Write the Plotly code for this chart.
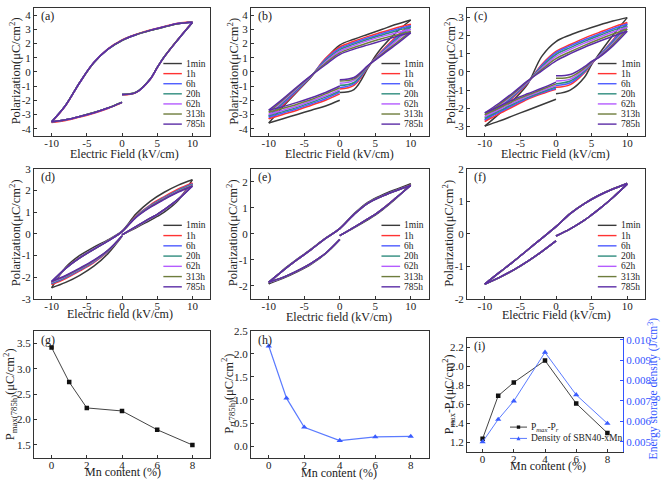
import plotly.graph_objects as go

FONT = "Liberation Serif, Times New Roman, serif"
TIMES = ["1min", "1h", "6h", "20h", "62h", "313h", "785h"]
COLORS = ["#3a3a3a", "#ff3333", "#4d5bff", "#2e8c7e", "#b45cff", "#6e7d3c", "#5b2ca6"]

# field grids for the three segments of each P-E loop (kV/cm)
E_VI = [0, 2, 4, 5, 6, 8, 10]                    # 0 -> +10
E_UP = [10, 8, 6, 4, 2, 0, -2, -4, -6, -8, -10]  # +10 -> -10
E_LO = [-10, -8, -6, -4, -2, 0]                  # -10 -> 0

# ---------------- (a) ----------------
A_VI = [
    [-1.60, -1.44, -0.52, 0.30, 1.05, 2.30, 3.48],
    [-1.62, -1.46, -0.54, 0.29, 1.05, 2.32, 3.52],
    [-1.60, -1.45, -0.52, 0.30, 1.06, 2.31, 3.48],
    [-1.59, -1.44, -0.51, 0.31, 1.06, 2.30, 3.47],
    [-1.60, -1.45, -0.52, 0.30, 1.05, 2.30, 3.47],
    [-1.59, -1.44, -0.51, 0.31, 1.06, 2.31, 3.46],
    [-1.60, -1.45, -0.52, 0.30, 1.05, 2.30, 3.47],
]
A_UP = [
    [3.50, 3.40, 3.17, 2.92, 2.62, 2.22, 1.60, 0.65, -0.75, -2.35, -3.52],
    [3.53, 3.43, 3.20, 2.95, 2.65, 2.25, 1.62, 0.66, -0.76, -2.38, -3.56],
    [3.50, 3.40, 3.17, 2.92, 2.62, 2.22, 1.60, 0.65, -0.75, -2.35, -3.52],
    [3.49, 3.39, 3.16, 2.91, 2.61, 2.21, 1.59, 0.64, -0.75, -2.34, -3.51],
    [3.50, 3.40, 3.17, 2.92, 2.62, 2.22, 1.60, 0.65, -0.75, -2.35, -3.52],
    [3.49, 3.39, 3.16, 2.91, 2.61, 2.21, 1.59, 0.64, -0.74, -2.34, -3.51],
    [3.50, 3.40, 3.17, 2.92, 2.62, 2.22, 1.60, 0.65, -0.75, -2.35, -3.52],
]
A_LO = [
    [-3.52, -3.38, -3.15, -2.88, -2.55, -2.15],
    [-3.56, -3.42, -3.18, -2.91, -2.58, -2.17],
    [-3.52, -3.38, -3.15, -2.88, -2.55, -2.15],
    [-3.51, -3.37, -3.14, -2.87, -2.54, -2.14],
    [-3.52, -3.38, -3.15, -2.88, -2.55, -2.15],
    [-3.51, -3.37, -3.14, -2.87, -2.54, -2.14],
    [-3.52, -3.38, -3.15, -2.88, -2.55, -2.15],
]

# ---------------- (b) ----------------
B_VI = [
    [-1.45, -1.25, 0.30, 1.10, 1.75, 2.80, 3.65],
    [-1.20, -0.95, 0.35, 0.95, 1.50, 2.50, 3.35],
    [-1.10, -0.85, 0.38, 0.92, 1.45, 2.40, 3.25],
    [-0.95, -0.75, 0.40, 0.90, 1.40, 2.30, 3.15],
    [-0.80, -0.60, 0.42, 0.88, 1.35, 2.20, 3.00],
    [-0.65, -0.50, 0.43, 0.85, 1.27, 2.05, 2.85],
    [-0.55, -0.40, 0.45, 0.83, 1.20, 1.95, 2.75],
]
B_UP = [
    [3.65, 3.35, 3.00, 2.65, 2.30, 1.89, 0.90, -0.35, -1.40, -2.45, -3.60],
    [3.35, 3.10, 2.80, 2.50, 2.15, 1.75, 0.95, -0.30, -1.35, -2.35, -3.30],
    [3.25, 3.00, 2.70, 2.40, 2.05, 1.65, 0.88, -0.30, -1.30, -2.25, -3.20],
    [3.15, 2.90, 2.60, 2.30, 1.95, 1.55, 0.80, -0.28, -1.22, -2.15, -3.10],
    [3.00, 2.75, 2.50, 2.20, 1.85, 1.45, 0.70, -0.27, -1.17, -2.07, -3.00],
    [2.85, 2.60, 2.35, 2.05, 1.72, 1.33, 0.60, -0.26, -1.10, -1.97, -2.85],
    [2.75, 2.50, 2.20, 1.90, 1.60, 1.22, 0.50, -0.25, -1.05, -1.90, -2.70],
]
B_LO = [
    [-3.60, -3.30, -3.00, -2.70, -2.40, -2.00],
    [-3.30, -3.00, -2.70, -2.35, -2.00, -1.55],
    [-3.20, -2.90, -2.60, -2.25, -1.90, -1.45],
    [-3.10, -2.80, -2.50, -2.15, -1.78, -1.35],
    [-3.00, -2.70, -2.40, -2.05, -1.68, -1.25],
    [-2.85, -2.57, -2.28, -1.95, -1.55, -1.12],
    [-2.70, -2.45, -2.15, -1.82, -1.45, -1.00],
]

# ---------------- (c) ----------------
C_VI = [
    [-1.20, -1.00, -0.30, 0.40, 0.95, 2.00, 2.97],
    [-0.85, -0.70, -0.05, 0.45, 0.85, 1.75, 2.70],
    [-0.75, -0.60, 0.00, 0.47, 0.85, 1.70, 2.62],
    [-0.65, -0.50, 0.05, 0.50, 0.83, 1.63, 2.53],
    [-0.50, -0.40, 0.12, 0.52, 0.82, 1.57, 2.45],
    [-0.35, -0.28, 0.20, 0.55, 0.80, 1.50, 2.35],
    [-0.22, -0.15, 0.28, 0.57, 0.78, 1.42, 2.22],
]
C_UP = [
    [2.97, 2.78, 2.55, 2.30, 2.02, 1.66, 0.85, -0.68, -1.55, -2.30, -2.97],
    [2.70, 2.45, 2.15, 1.85, 1.50, 1.12, 0.40, -0.62, -1.40, -2.08, -2.72],
    [2.62, 2.36, 2.06, 1.76, 1.42, 1.05, 0.35, -0.60, -1.35, -2.02, -2.63],
    [2.53, 2.27, 1.98, 1.67, 1.33, 0.95, 0.28, -0.57, -1.30, -1.96, -2.55],
    [2.45, 2.18, 1.88, 1.57, 1.23, 0.85, 0.20, -0.55, -1.25, -1.88, -2.45],
    [2.35, 2.07, 1.77, 1.45, 1.10, 0.72, 0.12, -0.52, -1.19, -1.80, -2.35],
    [2.22, 1.95, 1.66, 1.35, 1.00, 0.60, 0.05, -0.50, -1.13, -1.72, -2.25],
]
C_LO = [
    [-2.97, -2.70, -2.40, -2.10, -1.80, -1.50],
    [-2.72, -2.30, -1.90, -1.50, -1.20, -0.95],
    [-2.63, -2.22, -1.83, -1.45, -1.15, -0.90],
    [-2.55, -2.15, -1.76, -1.40, -1.10, -0.83],
    [-2.45, -2.07, -1.69, -1.34, -1.04, -0.75],
    [-2.35, -1.98, -1.60, -1.27, -0.97, -0.66],
    [-2.25, -1.90, -1.52, -1.20, -0.90, -0.56],
]

# ---------------- (d) ----------------
D_VI = [
    [-0.05, 0.28, 0.62, 0.80, 1.00, 1.55, 2.50],
    [-0.05, 0.32, 0.70, 0.88, 1.10, 1.60, 2.35],
    [-0.05, 0.32, 0.70, 0.88, 1.10, 1.60, 2.30],
    [-0.05, 0.33, 0.71, 0.89, 1.11, 1.60, 2.28],
    [-0.05, 0.33, 0.71, 0.89, 1.11, 1.60, 2.25],
    [-0.05, 0.33, 0.72, 0.90, 1.12, 1.60, 2.22],
    [-0.05, 0.34, 0.72, 0.90, 1.12, 1.60, 2.20],
]
D_UP = [
    [2.50, 2.25, 1.92, 1.50, 0.92, 0.12, -0.28, -0.62, -1.00, -1.55, -2.50],
    [2.35, 2.07, 1.72, 1.33, 0.82, 0.10, -0.32, -0.70, -1.10, -1.60, -2.35],
    [2.30, 2.02, 1.68, 1.30, 0.80, 0.10, -0.32, -0.70, -1.10, -1.60, -2.30],
    [2.28, 2.00, 1.66, 1.28, 0.79, 0.10, -0.33, -0.71, -1.11, -1.60, -2.28],
    [2.25, 1.97, 1.63, 1.26, 0.78, 0.10, -0.33, -0.71, -1.11, -1.60, -2.25],
    [2.22, 1.95, 1.61, 1.24, 0.77, 0.10, -0.33, -0.72, -1.12, -1.60, -2.22],
    [2.20, 1.93, 1.59, 1.22, 0.76, 0.10, -0.34, -0.72, -1.12, -1.60, -2.20],
]
D_LO = [
    [-2.50, -2.25, -1.92, -1.50, -0.92, -0.12],
    [-2.35, -2.07, -1.72, -1.33, -0.82, -0.10],
    [-2.30, -2.02, -1.68, -1.30, -0.80, -0.10],
    [-2.28, -2.00, -1.66, -1.28, -0.79, -0.10],
    [-2.25, -1.97, -1.63, -1.26, -0.78, -0.10],
    [-2.22, -1.95, -1.61, -1.24, -0.77, -0.10],
    [-2.20, -1.93, -1.59, -1.22, -0.76, -0.10],
]

# ---------------- (e) ----------------
E_VI_P = [
    [-0.07, 0.23, 0.55, 0.72, 0.92, 1.38, 1.93],
    [-0.07, 0.25, 0.58, 0.75, 0.95, 1.40, 1.88],
    [-0.07, 0.25, 0.58, 0.75, 0.95, 1.40, 1.87],
    [-0.07, 0.25, 0.58, 0.75, 0.95, 1.40, 1.87],
    [-0.07, 0.25, 0.58, 0.75, 0.95, 1.40, 1.86],
    [-0.07, 0.25, 0.58, 0.75, 0.95, 1.40, 1.86],
    [-0.07, 0.25, 0.58, 0.75, 0.95, 1.40, 1.86],
]
E_UP_P = [
    [1.93, 1.72, 1.50, 1.22, 0.77, 0.20, -0.17, -0.58, -0.98, -1.40, -1.93],
    [1.88, 1.68, 1.46, 1.19, 0.75, 0.20, -0.18, -0.60, -1.00, -1.42, -1.88],
    [1.87, 1.68, 1.46, 1.19, 0.75, 0.20, -0.18, -0.60, -1.00, -1.42, -1.88],
    [1.87, 1.67, 1.45, 1.18, 0.75, 0.20, -0.18, -0.60, -1.00, -1.42, -1.87],
    [1.86, 1.67, 1.45, 1.18, 0.74, 0.20, -0.18, -0.60, -1.00, -1.42, -1.87],
    [1.86, 1.67, 1.45, 1.18, 0.74, 0.20, -0.18, -0.60, -1.00, -1.42, -1.86],
    [1.86, 1.67, 1.45, 1.18, 0.74, 0.20, -0.18, -0.60, -1.00, -1.42, -1.86],
]
E_LO_P = [
    [-1.93, -1.72, -1.47, -1.17, -0.77, -0.22],
    [-1.88, -1.69, -1.44, -1.14, -0.75, -0.22],
    [-1.88, -1.69, -1.44, -1.14, -0.75, -0.22],
    [-1.87, -1.68, -1.43, -1.14, -0.75, -0.22],
    [-1.87, -1.68, -1.43, -1.14, -0.75, -0.22],
    [-1.86, -1.68, -1.43, -1.13, -0.75, -0.22],
    [-1.86, -1.68, -1.43, -1.13, -0.75, -0.22],
]

# ---------------- (f) ----------------
F_VI = [
    [-0.07, 0.15, 0.42, 0.58, 0.75, 1.12, 1.54],
    [-0.07, 0.15, 0.42, 0.58, 0.75, 1.12, 1.53],
    [-0.07, 0.15, 0.42, 0.58, 0.75, 1.12, 1.53],
    [-0.07, 0.15, 0.42, 0.58, 0.75, 1.12, 1.53],
    [-0.07, 0.15, 0.42, 0.58, 0.75, 1.12, 1.53],
    [-0.07, 0.15, 0.42, 0.58, 0.75, 1.12, 1.53],
    [-0.07, 0.15, 0.42, 0.58, 0.75, 1.12, 1.53],
]
F_UP = [
    [1.56, 1.39, 1.19, 0.94, 0.63, 0.22, -0.14, -0.50, -0.86, -1.21, -1.56],
    [1.55, 1.38, 1.18, 0.93, 0.62, 0.22, -0.14, -0.50, -0.86, -1.20, -1.55],
    [1.55, 1.38, 1.18, 0.93, 0.62, 0.22, -0.14, -0.50, -0.86, -1.20, -1.55],
    [1.55, 1.38, 1.18, 0.93, 0.62, 0.22, -0.14, -0.50, -0.86, -1.20, -1.55],
    [1.55, 1.38, 1.18, 0.93, 0.62, 0.22, -0.14, -0.50, -0.86, -1.20, -1.55],
    [1.55, 1.38, 1.18, 0.93, 0.62, 0.22, -0.14, -0.50, -0.86, -1.20, -1.55],
    [1.55, 1.38, 1.18, 0.93, 0.62, 0.22, -0.14, -0.50, -0.86, -1.20, -1.55],
]
F_LO = [
    [-1.56, -1.36, -1.13, -0.86, -0.55, -0.22],
    [-1.55, -1.35, -1.12, -0.85, -0.55, -0.22],
    [-1.55, -1.35, -1.12, -0.85, -0.55, -0.22],
    [-1.55, -1.35, -1.12, -0.85, -0.55, -0.22],
    [-1.55, -1.35, -1.12, -0.85, -0.55, -0.22],
    [-1.55, -1.35, -1.12, -0.85, -0.55, -0.22],
    [-1.55, -1.35, -1.12, -0.85, -0.55, -0.22],
]

# ---------------- (g), (h), (i) ----------------
MN = [0, 1, 2, 4, 6, 8]
PMAX_785H = [3.42, 2.74, 2.23, 2.17, 1.80, 1.50]
PR_785H = [2.17, 1.04, 0.41, 0.12, 0.20, 0.21]
PMAX_MINUS_PR = [1.24, 1.69, 1.83, 2.06, 1.61, 1.30]
ENERGY_DENSITY = [0.0050, 0.0061, 0.0070, 0.00938, 0.0073, 0.0059]

TICK_PE = [-10, -5, 0, 5, 10]

# ---------------- layout helpers ----------------
W, H = 661, 489


def px_x(p):
    return p / W


def px_y(p):
    return 1 - p / H


COL1 = [px_x(34), px_x(210)]
COL2 = [px_x(251), px_x(428.5)]
COL3 = [px_x(467), px_x(645)]
COL3I = [px_x(467), px_x(623)]
ROW1 = [px_y(133), px_y(2)]
ROW2 = [px_y(300), px_y(167)]
ROW3 = [px_y(463), px_y(333)]
ROW3I = [px_y(457.3), px_y(340)]

AXCOL = "#333333"


def base_axis(**kw):
    d = dict(showline=True, linecolor=AXCOL, linewidth=1, mirror=True,
             ticks="inside", ticklen=3, tickcolor=AXCOL, showgrid=False,
             zeroline=False, tickfont=dict(family=FONT, size=11, color="#222"))
    d.update(kw)
    return d


def ticktxt(vals, fmt):
    return [fmt.format(v) for v in vals]


fig = go.Figure()
annotations = []
shapes = []

loop_panels = [
    ("a", 1, A_VI, A_UP, A_LO),
    ("b", 2, B_VI, B_UP, B_LO),
    ("c", 3, C_VI, C_UP, C_LO),
    ("d", 4, D_VI, D_UP, D_LO),
    ("e", 5, E_VI_P, E_UP_P, E_LO_P),
    ("f", 6, F_VI, F_UP, F_LO),
]


def axname(n):
    return "" if n == 1 else str(n)


for letter, n, vi, up, lo in loop_panels:
    xa = "x" + axname(n)
    ya = "y" + axname(n)
    for k in range(7):
        for ex, py in ((E_VI, vi[k]), (E_UP, up[k]), (E_LO, lo[k])):
            fig.add_trace(go.Scatter(
                x=ex, y=py, mode="lines", xaxis=xa, yaxis=ya,
                line=dict(color=COLORS[k], width=1.5, shape="spline", smoothing=1.0),
                showlegend=False, hoverinfo="skip"))
    # legend drawn inside the plotting box
    for k, name in enumerate(TIMES):
        yy = 0.565 - k * 0.079
        shapes.append(dict(type="line", xref=xa + " domain", yref=ya + " domain",
                           x0=0.735, x1=0.84, y0=yy, y1=yy,
                           line=dict(color=COLORS[k], width=1.4)))
        annotations.append(dict(xref=xa + " domain", yref=ya + " domain",
                                x=0.852, y=yy, text=name, showarrow=False,
                                xanchor="left", yanchor="middle",
                                font=dict(family=FONT, size=9.5, color="#222")))
    annotations.append(dict(xref=xa + " domain", yref=ya + " domain",
                            x=0.03, y=0.94, text="(%s)" % letter, showarrow=False,
                            xanchor="left", yanchor="middle",
                            font=dict(family=FONT, size=12, color="#222")))

# (g)
fig.add_trace(go.Scatter(x=MN, y=PMAX_785H, mode="lines+markers", xaxis="x7", yaxis="y7",
                         line=dict(color="#444", width=1),
                         marker=dict(symbol="square", size=4.5, color="#111"),
                         showlegend=False, hoverinfo="skip"))
# (h)
fig.add_trace(go.Scatter(x=MN, y=PR_785H, mode="lines+markers", xaxis="x8", yaxis="y8",
                         line=dict(color="#5b7bff", width=1.2),
                         marker=dict(symbol="triangle-up", size=5.5, color="#3a5cff"),
                         showlegend=False, hoverinfo="skip"))
# (i)
fig.add_trace(go.Scatter(x=MN, y=PMAX_MINUS_PR, mode="lines+markers", xaxis="x9", yaxis="y9",
                         line=dict(color="#444", width=1),
                         marker=dict(symbol="square", size=4.5, color="#111"),
                         showlegend=False, hoverinfo="skip"))
fig.add_trace(go.Scatter(x=MN, y=ENERGY_DENSITY, mode="lines+markers", xaxis="x9", yaxis="y10",
                         line=dict(color="#5b7bff", width=1),
                         marker=dict(symbol="triangle-up", size=5.5, color="#3a5cff"),
                         showlegend=False, hoverinfo="skip"))

for n, letter in ((7, "g"), (8, "h"), (9, "i")):
    xa = "x" + axname(n)
    ya = "y" + axname(n)
    annotations.append(dict(xref=xa + " domain", yref=ya + " domain",
                            x=0.03, y=0.93, text="(%s)" % letter, showarrow=False,
                            xanchor="left", yanchor="middle",
                            font=dict(family=FONT, size=12, color="#222")))

# (i) legend (line sample + marker + label)
for j, (txt, col, mcol, sym) in enumerate((
        ("P<sub><i>max</i></sub>-P<sub><i>r</i></sub>", "#444", "#111", "square"),
        ("Density of SBN40-xMn", "#5b7bff", "#3a5cff", "triangle-up"))):
    yy_px = 431.7 + j * 11.6
    shapes.append(dict(type="line", xref="paper", yref="paper",
                       x0=px_x(510), x1=px_x(527), y0=px_y(yy_px), y1=px_y(yy_px),
                       line=dict(color=col, width=1)))
    if sym == "square":
        shapes.append(dict(type="rect", xref="paper", yref="paper",
                           x0=px_x(516.8), x1=px_x(520.2), y0=px_y(yy_px + 1.7),
                           y1=px_y(yy_px - 1.7), line=dict(width=0), fillcolor=mcol))
    else:
        shapes.append(dict(type="path", xref="paper", yref="paper",
                           path="M %f %f L %f %f L %f %f Z" % (
                               px_x(516.5), px_y(yy_px + 1.8), px_x(520.5), px_y(yy_px + 1.8),
                               px_x(518.5), px_y(yy_px - 2.2)),
                           line=dict(width=0), fillcolor=mcol))
    annotations.append(dict(xref="paper", yref="paper", x=px_x(529), y=px_y(yy_px),
                            text=txt, showarrow=False, xanchor="left", yanchor="middle",
                            font=dict(family=FONT, size=9.5, color="#222")))

# axis titles as annotations
XT = [
    ("Electric Field (kV/cm)", 125, 151.5),
    ("Electric Field (kV/cm)", 339, 151.5),
    ("Electric Field (kV/cm)", 555, 151.5),
    ("Electric field (kV/cm)", 120, 316),
    ("Electric field (kV/cm)", 339, 318.5),
    ("Electric Field (kV/cm)", 556, 317),
    ("Mn content (%)", 123, 477.5),
    ("Mn content (%)", 339, 478.5),
    ("Mn content (%)", 548, 472),
]
for txt, cx, cy in XT:
    annotations.append(dict(xref="paper", yref="paper", x=px_x(cx), y=px_y(cy),
                            text=txt, showarrow=False, xanchor="center", yanchor="middle",
                            font=dict(family=FONT, size=12, color="#222")))

POL = "Polarization(μC/cm<sup>2</sup>)"
YT = [
    (POL, 15, 67, 12.5, "#222"),
    (POL, 233.5, 67, 12.5, "#222"),
    (POL, 450, 67, 12.5, "#222"),
    (POL, 15, 233, 12.5, "#222"),
    (POL, 232, 233, 12.5, "#222"),
    (POL, 448.5, 233, 12.5, "#222"),
    ("P<sub>max(785h)</sub>(μC/cm<sup>2</sup>)", 10, 398, 12.5, "#222"),
    ("P<sub><i>r</i>(785h)</sub>(μC/cm<sup>2</sup>)", 228.5, 398, 12.5, "#222"),
    ("P<sub>max</sub>-P<sub><i>r</i></sub>(μC/cm<sup>2</sup>)", 449, 398, 12, "#222"),
    ("Energy storage density (J/cm<sup>3</sup>)", 653, 392, 11.5, "#3355ff"),
]
for txt, cx, cy, fs, col in YT:
    annotations.append(dict(xref="paper", yref="paper", x=px_x(cx), y=px_y(cy),
                            text=txt, showarrow=False, xanchor="center", yanchor="middle",
                            textangle=-90, font=dict(family=FONT, size=fs, color=col)))

layout = dict(
    width=W, height=H, margin=dict(l=0, r=0, t=0, b=0),
    paper_bgcolor="white", plot_bgcolor="white", showlegend=False,
    font=dict(family=FONT, color="#222"),
    annotations=annotations, shapes=shapes,
)

PE_X = dict(range=[-12.5, 12.5], tickvals=TICK_PE, ticktext=ticktxt(TICK_PE, "{:d}"),
            ticklabelstandoff=-3)
ycfg = {
    1: ([-4.5, 4.5], list(range(-4, 5))),
    2: ([-4.5, 4.5], list(range(-4, 5))),
    3: ([-3.5, 3.5], list(range(-3, 4))),
    4: ([-3.0, 3.0], list(range(-3, 4))),
    5: ([-2.5, 2.5], list(range(-2, 3))),
    6: ([-2.0, 2.0], list(range(-2, 3))),
}
doms = {1: (COL1, ROW1), 2: (COL2, ROW1), 3: (COL3, ROW1),
        4: (COL1, ROW2), 5: (COL2, ROW2), 6: (COL3, ROW2),
        7: (COL1, ROW3), 8: (COL2, ROW3), 9: (COL3I, ROW3I)}

for n in range(1, 7):
    xd, yd = doms[n]
    rng, tv = ycfg[n]
    layout["xaxis" + axname(n)] = base_axis(domain=xd, anchor="y" + axname(n), **PE_X)
    layout["yaxis" + axname(n)] = base_axis(domain=yd, anchor="x" + axname(n), range=rng,
                                            tickvals=tv, ticktext=ticktxt(tv, "{:d}"))

MN_TICKS = [0, 2, 4, 6, 8]
G_TICKS = [1.5, 2.0, 2.5, 3.0, 3.5]
H_TICKS = [0.0, 0.5, 1.0, 1.5, 2.0, 2.5]
I_TICKS = [1.2, 1.4, 1.6, 1.8, 2.0, 2.2]
I2_TICKS = [0.005, 0.006, 0.007, 0.008, 0.009, 0.010]

for n in (7, 8, 9):
    xd, yd = doms[n]
    layout["xaxis" + axname(n)] = base_axis(domain=xd, anchor="y" + axname(n), range=[-1, 9],
                                            tickvals=MN_TICKS, ticktext=ticktxt(MN_TICKS, "{:d}"),
                                            ticklabelstandoff=-3)
layout["yaxis7"] = base_axis(domain=ROW3, anchor="x7", range=[1.25, 3.75],
                             tickvals=G_TICKS, ticktext=ticktxt(G_TICKS, "{:.1f}"))
layout["yaxis8"] = base_axis(domain=ROW3, anchor="x8", range=[-0.25, 2.5],
                             tickvals=H_TICKS, ticktext=ticktxt(H_TICKS, "{:.1f}"))
layout["yaxis9"] = base_axis(domain=ROW3I, anchor="x9", range=[1.1, 2.3], mirror=False,
                             tickvals=I_TICKS, ticktext=ticktxt(I_TICKS, "{:.1f}"))
layout["yaxis10"] = base_axis(domain=ROW3I, anchor="x9", overlaying="y9", side="right",
                              range=[0.0045, 0.0101], mirror=False,
                              linecolor="#3355ff", tickcolor="#3355ff",
                              tickfont=dict(family=FONT, size=11, color="#3355ff"),
                              tickvals=I2_TICKS, ticktext=ticktxt(I2_TICKS, "{:.3f}"))

fig.update_layout(**layout)
fig.write_html("out.html")
